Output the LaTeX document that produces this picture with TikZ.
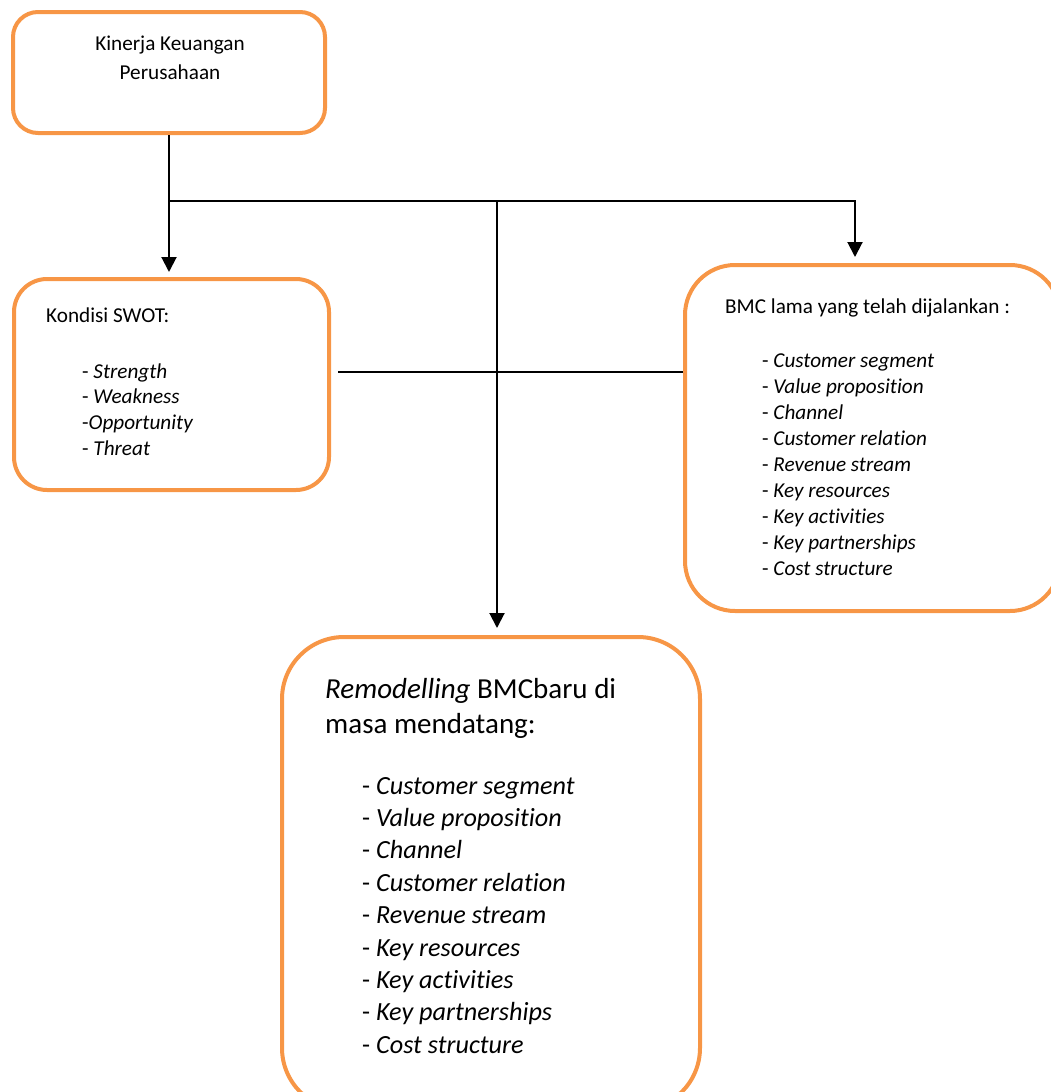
\documentclass[tikz,border=0pt]{standalone}
\usepackage{fontspec}
\setmainfont{Carlito}[Ligatures=NoCommon]
\usetikzlibrary{arrows.meta,positioning}
\definecolor{boxorange}{RGB}{247,150,70}
\tikzstyle{OrangeBox}=[rectangle, draw=boxorange, line width=4pt, inner sep=0pt]
\tikzstyle{SmallText}=[anchor=base west, inner sep=0pt, font=\fontsize{21.2}{26}\selectfont]
\tikzstyle{BigText}=[anchor=base west, inner sep=0pt, font=\fontsize{26.2}{32.5}\selectfont]
\tikzstyle{TitleText}=[anchor=base west, inner sep=0pt, font=\fontsize{29}{35}\selectfont]
\tikzstyle{Link}=[draw=black, line width=2pt]
\tikzstyle{LinkArrow}=[Link, -{Triangle[width=15pt,length=15pt]}]

\begin{document}
\begin{tikzpicture}[x=1pt, y=-1pt]
			\useasboundingbox (0,0) rectangle (1051,1092);
			\clip (0,0) rectangle (1051,1092);

			%Cajas
			\node[OrangeBox, minimum width=312pt, minimum height=121pt, rounded corners=25pt]	(kinerja)	at (169,72.5)	{};
			\node[OrangeBox, minimum width=315pt, minimum height=211pt, rounded corners=33pt]	(swot)		at (171.5,384.5)	{};
			\node[OrangeBox, minimum width=375pt, minimum height=346pt, rounded corners=50pt]	(bmc)		at (872.5,438)	{};
			\node[OrangeBox, minimum width=418pt, minimum height=473pt, rounded corners=62pt]	(remodel)	at (491,873.5)	{};

			%Textos
			\node[SmallText, anchor=base]	(kinerja_l1)	at (170,50)		{Kinerja Keuangan};
			\node[SmallText, anchor=base]	(kinerja_l2)	at (170,79)		{Perusahaan};

			\node[SmallText]	(swot_title)	at (46,322)		{Kondisi SWOT:};
			\foreach \txt [count=\i from 0] in {- \textit{Strength}, - \textit{Weakness}, -\textit{Opportunity}, - \textit{Threat}}
				\node[SmallText]	(swot_item\i)	at (82,{378+25.7*\i})	{\txt};

			\node[SmallText]	(bmc_title)		at (725,313.3)	{BMC lama yang telah dijalankan :};
			\foreach \txt [count=\i from 0] in {Customer segment, Value proposition, Channel, Customer relation, Revenue stream, Key resources, Key activities, Key partnerships, Cost structure}
				\node[SmallText]	(bmc_item\i)	at (762,{367.3+26*\i})	{- \textit{\txt}};

			\node[TitleText]	(remodel_l1)	at (325,698.3)	{\textit{Remodelling} BMCbaru di};
			\node[TitleText]	(remodel_l2)	at (325,733.3)	{masa mendatang:};
			\foreach \txt [count=\i from 0] in {Customer segment, Value proposition, Channel, Customer relation, Revenue stream, Key resources, Key activities, Key partnerships, Cost structure}
				\node[BigText]	(remodel_item\i)	at (362,{794+32.4*\i})	{- \textit{\txt}};

			%Conectores
			\coordinate (fork)	at (kinerja.south |- 0,201);
			\coordinate (forkM)	at (497,201);
			\coordinate (forkR)	at (855,201);
			\coordinate (cross)	at (0,372);

			\draw[LinkArrow, shorten >=5pt]	(kinerja.south) -- (kinerja.south |- swot.north);
			\draw[LinkArrow, shorten >=6pt]	(fork) -- (forkR) -- (forkR |- bmc.north);
			\draw[LinkArrow, shorten >=7pt]	(forkM) -- (forkM |- remodel.north);
			\draw[Link, shorten <=7pt]		(swot.east |- cross) -- (bmc.west |- cross);

		\end{tikzpicture}
\end{document}
